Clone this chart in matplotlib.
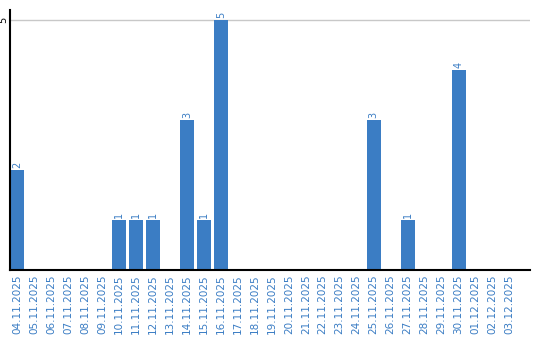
import matplotlib
matplotlib.use('Agg')
from matplotlib import pyplot as plt

dates = ['04.11.2025', '05.11.2025', '06.11.2025', '07.11.2025', '08.11.2025',
         '09.11.2025', '10.11.2025', '11.11.2025', '12.11.2025', '13.11.2025',
         '14.11.2025', '15.11.2025', '16.11.2025', '17.11.2025', '18.11.2025',
         '19.11.2025', '20.11.2025', '21.11.2025', '22.11.2025', '23.11.2025',
         '24.11.2025', '25.11.2025', '26.11.2025', '27.11.2025', '28.11.2025',
         '29.11.2025', '30.11.2025', '01.12.2025', '02.12.2025', '03.12.2025']
counts = [2, 0, 0, 0, 0, 0, 1, 1, 1, 0,
          3, 1, 5, 0, 0, 0, 0, 0, 0, 0,
          0, 3, 0, 1, 0, 0, 4, 0, 0, 0]

blue = '#3b7dc4'

fig = plt.figure(figsize=(5.4, 3.4), dpi=100)
ax = fig.add_axes([10/540, 70/340, 520/540, 260/340])

x = range(len(dates))
ax.bar(x, counts, width=0.82, color=blue, zorder=2)
for i, v in enumerate(counts):
    if v > 0:
        ax.text(i, v + 0.04, str(v), rotation=90, ha='center', va='bottom',
                color=blue, fontsize=7)

ax.set_xlim(-0.41, 30.2)
ax.set_ylim(0, 5.2)
ax.set_yticks([5])
ax.set_yticklabels(['5'], rotation=90, va='center', fontsize=7)
ax.grid(axis='y', color='#c8c8c8', linewidth=1, zorder=0)
ax.set_xticks(list(x))
ax.set_xticklabels(dates, rotation=90, color=blue, fontsize=7.5)
ax.tick_params(axis='both', length=0, pad=3)
ax.tick_params(axis='y', pad=1)
for s in ['top', 'right']:
    ax.spines[s].set_visible(False)
for s in ['left', 'bottom']:
    ax.spines[s].set_linewidth(1.5)

fig.savefig('out.png', dpi=100)
